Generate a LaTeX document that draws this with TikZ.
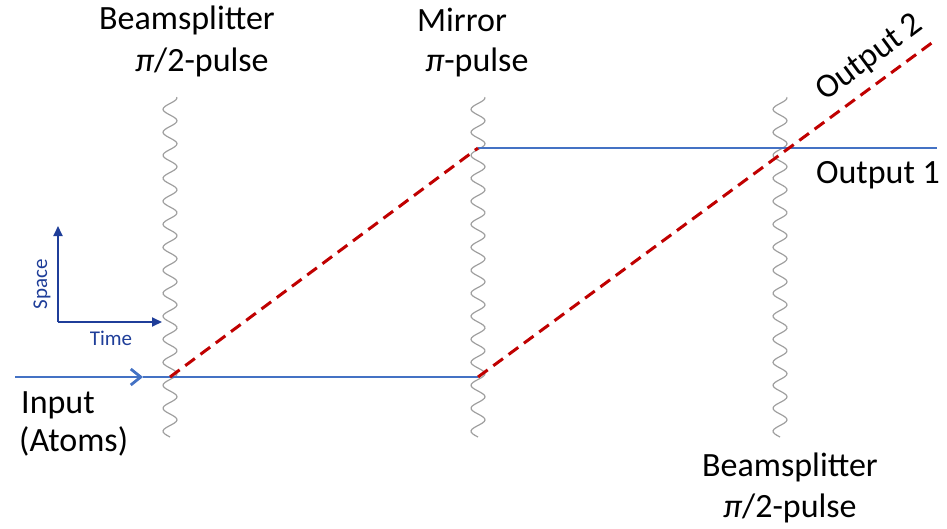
\documentclass[tikz,border=0pt]{standalone}
\usepackage{fontspec}
\setmainfont{Carlito}
\usepackage{xcolor}
\usetikzlibrary{arrows.meta,positioning}
\definecolor{beamblue}{HTML}{4472C4}
\definecolor{pathred}{HTML}{C00000}
\definecolor{axisblue}{HTML}{1F3E99}
\newcommand{\pulse}[1]{\draw[wave] plot[domain=97:437, samples=220] ({#1+7*sin(\x/23*360)}, \x);}
\newcommand{\piit}{{\itshape π}}

\begin{document}
\begin{tikzpicture}[x=1pt, y=-1pt,
  beam/.style={draw=beamblue, line width=2.8pt},
  arm/.style={draw=pathred, line width=3pt, dash pattern=on 12pt off 7pt},
  wave/.style={draw=gray!75, line width=1.2pt},
  axis/.style={draw=axisblue, line width=2pt, -{Triangle[length=10pt, width=9pt]}},
  lab/.style={font=\fontsize{34}{38}\selectfont, inner sep=0pt},
  small/.style={font=\fontsize{21}{24}\selectfont, text=axisblue, inner sep=0pt},
]
\useasboundingbox (0,0) rectangle (947,528);
% laser pulses
\pulse{170}
\pulse{478}
\pulse{780}
% points on the paths
\coordinate (in) at (15,377);
\coordinate (tip) at (143,377);
\coordinate (bs1) at (170,377);
\coordinate (mirlo) at (478,377);
\coordinate (mirhi) at (478,148);
\coordinate (out1) at (937,148);
\coordinate (out2) at (933,42);
% atom paths
\draw[beam, -{Straight Barb[length=10pt, width=16pt]}] (in) -- (tip);
\draw[beam] (tip) -- (mirlo);
\draw[beam] (mirhi) -- (out1);
\draw[arm] (bs1) -- (mirhi);
\draw[arm] (mirlo) -- (out2);
% axes
\coordinate (orig) at (58,322);
\coordinate (ytip) at (58,226);
\coordinate (xtip) at (162,322);
\draw[axis] (orig) -- (ytip);
\draw[axis] (orig) -- (xtip);
\node[small, rotate=90] (space) at (42,284) {Space};
\node[small] (time) at (111,338) {Time};
% labels
\node[lab] (bsa) at (187,20) {Beamsplitter};
\node[lab] (bsb) at (202,62) {\piit/2-pulse};
\node[lab] (mira) at (462,20) {Mirror};
\node[lab] (mirb) at (477,62) {\piit-pulse};
\node[lab] (bsc) at (790,467) {Beamsplitter};
\node[lab] (bsd) at (790,508) {\piit/2-pulse};
\node[lab, rotate=36.6] (o2) at (870,58) {Output 2};
\node[lab] (o1) at (878,175) {Output 1};
\node[lab, anchor=west] (inp) at (21,405) {Input};
\node[lab, anchor=west] (atoms) at (19,441) {(Atoms)};
\end{tikzpicture}
\end{document}
